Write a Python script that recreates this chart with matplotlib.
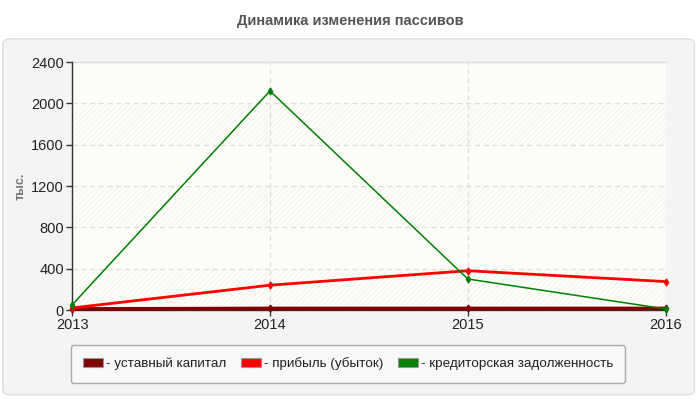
import matplotlib
matplotlib.use("Agg")
import matplotlib.pyplot as plt
from matplotlib.patches import FancyBboxPatch, Patch
import numpy as np

plt.rcParams['font.family'] = ['Liberation Sans', 'DejaVu Sans']
plt.rcParams['hatch.linewidth'] = 0.6

# data
years = [2013, 2014, 2015, 2016]
ustavny = [10, 15, 15, 15]
pribyl = [20, 240, 380, 275]
kredit = [50, 2120, 300, 10]
y_ticks = [0, 400, 800, 1200, 1600, 2000, 2400]
series_names = ['- уставный капитал', '- прибыль (убыток)', '- кредиторская задолженность']
series_colors = ['#800000', '#ff0000', '#008000']
series_widths = [2.6, 2.0, 1.1]

fig = plt.figure(figsize=(7, 4), dpi=100)
fig.patch.set_facecolor('white')

# grey rounded panel behind the chart
panel = FancyBboxPatch((0.004, 0.013), 0.988, 0.89,
                       boxstyle='round,pad=0,rounding_size=0.012',
                       transform=fig.transFigure, facecolor='#f4f4f4',
                       edgecolor='#dedede', linewidth=1, zorder=-5)
fig.patches.append(panel)

fig.text(0.5, 0.948, 'Динамика изменения пассивов', ha='center', va='center',
         fontsize=10.5, fontweight='bold', color='#555555')

ax = fig.add_axes([0.103, 0.225, 0.848, 0.62])
ax.set_zorder(2)
ax.set_facecolor('#fdfdf7')

# alternating hatched bands
for i in range(len(y_ticks) - 1):
    if i % 2 == 0:
        ax.axhspan(y_ticks[i], y_ticks[i + 1], facecolor='none',
                   edgecolor='#f0f0f0', hatch='//////', linewidth=0, zorder=0)

for vals, col, lw in zip([ustavny, pribyl, kredit], series_colors, series_widths):
    ax.plot(years, vals, color=col, linewidth=lw, marker='d', markersize=3.5,
            zorder=3, clip_on=False)

ax.set_xlim(years[0], years[-1])
ax.set_ylim(y_ticks[0], y_ticks[-1])
ax.set_xticks(years)
ax.set_yticks(y_ticks)
ax.grid(True, linestyle=(0, (4, 3)), color='#dddddd', linewidth=0.9, zorder=1)
ax.set_axisbelow(True)

for side in ['top', 'right']:
    ax.spines[side].set_visible(False)
for side in ['left', 'bottom']:
    ax.spines[side].set_color('#333333')
    ax.spines[side].set_linewidth(1)
ax.axhline(y_ticks[-1], color='#dddddd', linewidth=1, clip_on=False)
ax.tick_params(axis='both', direction='out', length=4, width=1,
               color='#333333', labelsize=10.5, labelcolor='#222222', pad=2)

fig.text(0.029, 0.535, 'тыс.', rotation=90, ha='center', va='center',
         fontsize=9, fontweight='bold', color='#777777')

handles = [Patch(facecolor=c, edgecolor='#999999', linewidth=0.8) for c in series_colors]
leg = fig.legend(handles, series_names, loc='center', bbox_to_anchor=(0.497, 0.09),
                 ncol=3, fontsize=9.7, frameon=True, fancybox=True,
                 handlelength=1.5, handleheight=0.6, handletextpad=0.2,
                 columnspacing=1.1, borderpad=0.9, labelcolor='#222222')
leg.get_frame().set_facecolor('#f8f8f8')
leg.get_frame().set_edgecolor('#aaaaaa')
leg.get_frame().set_alpha(1)

fig.savefig('out.png', dpi=100)
